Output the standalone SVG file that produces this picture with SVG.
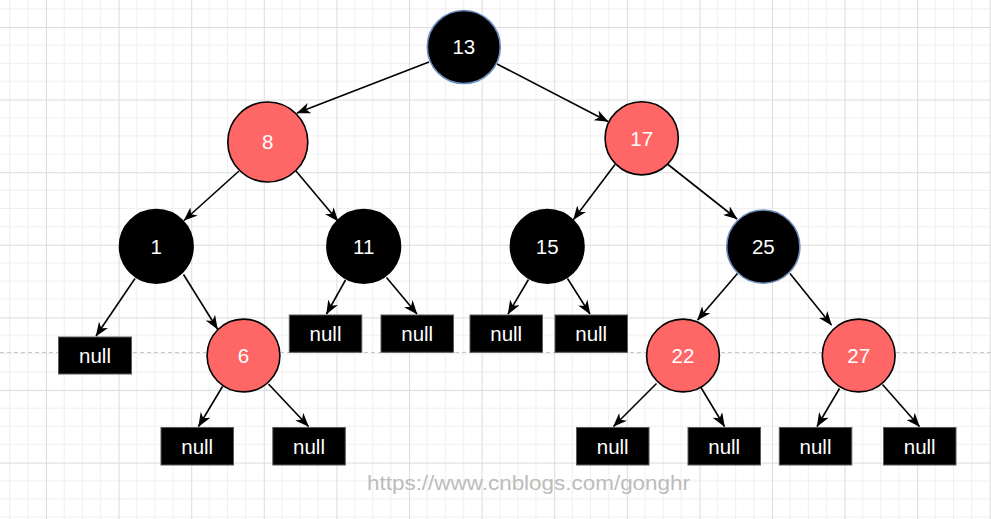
<svg xmlns="http://www.w3.org/2000/svg" width="991" height="519" viewBox="0 0 991 519">
  <defs>
    <!-- background grid: major cell 72.6 px, split into four minor cells -->
    <pattern id="grid" patternUnits="userSpaceOnUse" x="46" y="27" width="72.6" height="72.6">
      <path d="M18.15 0V72.6M36.3 0V72.6M54.45 0V72.6M0 18.15H72.6M0 36.3H72.6M0 54.45H72.6" stroke="#efefef" stroke-width="1" fill="none"/>
      <path d="M0.5 0V72.6M0 0.5H72.6" stroke="#dcdcdc" stroke-width="1" fill="none"/>
    </pattern>
    <marker id="arrow" markerUnits="userSpaceOnUse" viewBox="0 0 14 11" markerWidth="14" markerHeight="11" refX="13.5" refY="5.5" orient="auto">
      <path d="M0 0L14 5.5L0 11L4 5.5Z" fill="#000"/>
    </marker>
  </defs>
  <style>
    .edge { stroke: #000; stroke-width: 1.6; fill: none; marker-end: url(#arrow); }
    .red circle { fill: #ff6666; stroke: #000; stroke-width: 1.6; }
    .blk circle { fill: #000; stroke: #000; stroke-width: 1.6; }
    .blk.blue circle { stroke: #6c8ebf; }
    .nil rect { fill: #000; stroke: #5a5a5a; stroke-width: 1; }
    text { font-family: "Liberation Sans", Arial, Helvetica, sans-serif; font-size: 20.5px; fill: #fff; text-anchor: middle; }
  </style>

  <rect width="991" height="519" fill="#fff"/>
  <rect width="991" height="519" fill="url(#grid)"/>
  <line x1="0" y1="352.5" x2="991" y2="352.5" stroke="#c8c8c8" stroke-width="1" stroke-dasharray="4 3"/>

  <g id="connectors">
    <line class="edge" x1="429" y1="62" x2="297" y2="113"/>
    <line class="edge" x1="497" y1="64" x2="608" y2="121.5"/>
    <line class="edge" x1="239" y1="171" x2="184" y2="220.5"/>
    <line class="edge" x1="296" y1="171" x2="338" y2="221"/>
    <line class="edge" x1="615" y1="164.5" x2="573.5" y2="219.5"/>
    <line class="edge" x1="668" y1="164.5" x2="737" y2="219"/>
    <line class="edge" x1="135" y1="278.5" x2="96" y2="336"/>
    <line class="edge" x1="183.5" y1="274.5" x2="217.5" y2="329"/>
    <line class="edge" x1="345.5" y1="280" x2="326.5" y2="314"/>
    <line class="edge" x1="386.5" y1="277.5" x2="417" y2="314"/>
    <line class="edge" x1="528.5" y1="279.5" x2="508" y2="314"/>
    <line class="edge" x1="567.5" y1="278.5" x2="590" y2="314"/>
    <line class="edge" x1="737.5" y1="273.5" x2="697.5" y2="320"/>
    <line class="edge" x1="790" y1="273.5" x2="831.5" y2="325"/>
    <line class="edge" x1="222.5" y1="386.5" x2="198.5" y2="426.5"/>
    <line class="edge" x1="268.5" y1="384" x2="308.5" y2="426.5"/>
    <line class="edge" x1="656.5" y1="383.5" x2="613.5" y2="426.5"/>
    <line class="edge" x1="701" y1="387.5" x2="724.5" y2="426.5"/>
    <line class="edge" x1="839.5" y1="388.5" x2="817" y2="426.5"/>
    <line class="edge" x1="882.5" y1="384.5" x2="919.5" y2="426.5"/>
  </g>

  <g id="n13" class="blk blue"><circle cx="463.8" cy="47" r="36.5"/><text x="463.8" y="54.3">13</text></g>
  <g id="n8" class="red"><circle cx="267.8" cy="142" r="40"/><text x="267.8" y="149.3">8</text></g>
  <g id="n17" class="red"><circle cx="641.7" cy="138.3" r="36.6"/><text x="641.7" y="145.6">17</text></g>
  <g id="n1" class="blk"><circle cx="156.3" cy="246.3" r="36.8"/><text x="156.3" y="253.6">1</text></g>
  <g id="n11" class="blk"><circle cx="363.7" cy="246.3" r="36.8"/><text x="363.7" y="253.6">11</text></g>
  <g id="n15" class="blk"><circle cx="547.2" cy="246.3" r="36.8"/><text x="547.2" y="253.6">15</text></g>
  <g id="n25" class="blk blue"><circle cx="763.3" cy="246.6" r="36.6"/><text x="763.3" y="253.9">25</text></g>
  <g id="n6" class="red"><circle cx="243.5" cy="355.5" r="36.4"/><text x="243.5" y="362.8">6</text></g>
  <g id="n22" class="red"><circle cx="683" cy="355.5" r="36.4"/><text x="683" y="362.8">22</text></g>
  <g id="n27" class="red"><circle cx="858.7" cy="355.5" r="36.4"/><text x="858.7" y="362.8">27</text></g>

  <g id="null-1" class="nil"><rect x="58.5" y="337" width="73" height="37"/><text x="95" y="363">null</text></g>
  <g id="null-6a" class="nil"><rect x="161" y="427.5" width="72.5" height="37.5"/><text x="197.2" y="453.5">null</text></g>
  <g id="null-6b" class="nil"><rect x="272.8" y="427.5" width="72.5" height="37.5"/><text x="309" y="453.5">null</text></g>
  <g id="null-11a" class="nil"><rect x="289.3" y="315" width="72.5" height="37.3"/><text x="325.5" y="341">null</text></g>
  <g id="null-11b" class="nil"><rect x="381" y="315" width="72.5" height="37.3"/><text x="417.2" y="341">null</text></g>
  <g id="null-15a" class="nil"><rect x="470" y="315" width="72.5" height="37.3"/><text x="506.2" y="341">null</text></g>
  <g id="null-15b" class="nil"><rect x="555" y="315" width="72.5" height="37.3"/><text x="591.2" y="341">null</text></g>
  <g id="null-22a" class="nil"><rect x="576.5" y="427.5" width="72.5" height="37.5"/><text x="612.7" y="453.5">null</text></g>
  <g id="null-22b" class="nil"><rect x="688" y="427.5" width="72.5" height="37.5"/><text x="724.2" y="453.5">null</text></g>
  <g id="null-27a" class="nil"><rect x="779.3" y="427.5" width="72.5" height="37.5"/><text x="815.5" y="453.5">null</text></g>
  <g id="null-27b" class="nil"><rect x="883.5" y="427.5" width="72.5" height="37.5"/><text x="919.7" y="453.5">null</text></g>

  <text x="528.5" y="490" style="font-size:21px; fill:#bcbcbc" textLength="323" lengthAdjust="spacingAndGlyphs">https://www.cnblogs.com/gonghr</text>
</svg>
